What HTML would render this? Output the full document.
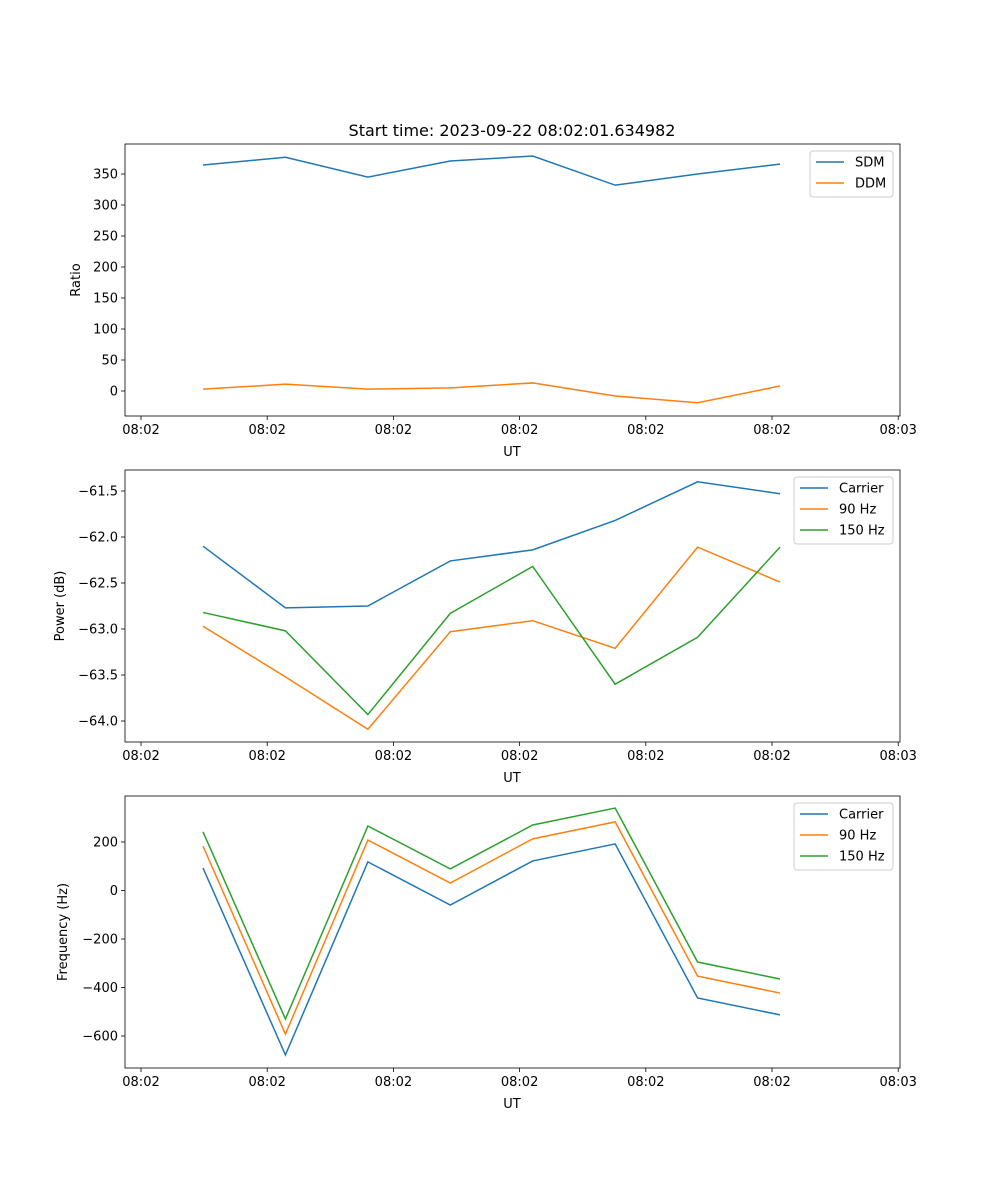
<!DOCTYPE html>
<html><head><meta charset="utf-8"><style>
body{margin:0;background:#fff;}
svg{display:block;font-family:"DejaVu Sans","Liberation Sans",sans-serif;}
</style></head><body>
<svg id="fig" width="1000" height="1200"></svg>
<script>
const xTickLabels=["08:02","08:02","08:02","08:02","08:02","08:02","08:03"];
const xTickIdx=[-0.752,0.779,2.310,3.841,5.372,6.903,8.434];
const pointIdx=[0,1,2,3,4,5,6,7];
const sdm=[364.5,377,345,371,379,332,350,366];
const ddm=[3,11,3,5,13,-8,-19,8];
const pCarrier=[-62.10,-62.77,-62.75,-62.26,-62.14,-61.82,-61.40,-61.53];
const p90=[-62.97,-63.52,-64.09,-63.03,-62.91,-63.21,-62.11,-62.49];
const p150=[-62.82,-63.02,-63.93,-62.83,-62.32,-63.60,-63.09,-62.11];
const fCarrier=[93,-678,118,-60,122,192,-443,-513];
const f90=[183,-592,208,31,213,283,-353,-423];
const f150=[242,-530,266,89,270,340,-295,-365];
const ticks1=[0,50,100,150,200,250,300,350];
const ticks2=[-64.0,-63.5,-63.0,-62.5,-62.0,-61.5];
const ticks3=[-600,-400,-200,0,200];
const C=["#1f77b4","#ff7f0e","#2ca02c"];
const NS="http://www.w3.org/2000/svg";
const svg=document.getElementById('fig');
function el(tag,attrs,parent){const e=document.createElementNS(NS,tag);for(const k in attrs)e.setAttribute(k,attrs[k]);(parent||svg).appendChild(e);return e;}
const X0=125,X1=900;
const xs=i=>203+i*82.43;
function panel(top,bottom,yf,yticks,fmt,ylabel,series,names,legW,name){
  const g=el('g',{});
  
  
  el('rect',{x:X0,y:top,width:X1-X0,height:bottom-top,fill:'#fff'},g);
  xTickIdx.forEach((t,k)=>{const x=xs(t);
    el('line',{x1:x,x2:x,y1:bottom,y2:bottom+4,stroke:'#000','stroke-width':0.8},g);
    const tx=el('text',{x:x,y:bottom+18,'font-size':13,'text-anchor':'middle'},g);tx.textContent=xTickLabels[k];
    
    });
  const xl=el('text',{x:512,y:bottom+40,'font-size':13,'text-anchor':'middle'},g);xl.textContent='UT';
  
  
  yticks.forEach(v=>{const y=yf(v);
    el('line',{x1:X0-4,x2:X0,y1:y,y2:y,stroke:'#000','stroke-width':0.8},g);
    const tx=el('text',{x:X0-7,y:y+4.5,'font-size':13,'text-anchor':'end'},g);tx.textContent=fmt(v);
    
    });
  const yl=el('text',{x:0,y:0,'font-size':13,'text-anchor':'middle',transform:`translate(${ylabel[1]},${(top+bottom)/2}) rotate(-90)`},g);yl.textContent=ylabel[0];
  
  
  series.forEach((s,j)=>{const p=el('polyline',{points:s.map((v,i)=>xs(pointIdx[i])+','+yf(v)).join(' '),fill:'none',stroke:C[j],'stroke-width':1.5},g);
    
    });
  el('rect',{x:X0,y:top,width:X1-X0,height:bottom-top,fill:'none',stroke:'#000','stroke-width':0.8},g);
  const lx=X1-7-legW,ly=top+7,lh=4+names.length*21;
  const lg=el('g',{},g);
  
  
  el('rect',{x:lx,y:ly,width:legW,height:lh,rx:3,fill:'#fff',stroke:'#ccc','stroke-width':1},lg);
  names.forEach((n,j)=>{const y=ly+11+j*21;
    el('line',{x1:lx+6,x2:lx+34,y1:y,y2:y,stroke:C[j],'stroke-width':1.5},lg);
    const t=el('text',{x:lx+45,y:y+4.5,'font-size':13},lg);t.textContent=n;
    
    });
}
panel(144,416,v=>391-v*0.62,ticks1,v=>String(v),['Ratio',80],[sdm,ddm],['SDM','DDM'],83,'ratio-panel');
panel(470,742,v=>491+(-61.5-v)*92,ticks2,v=>'\u2212'+Math.abs(v).toFixed(1),['Power (dB)',64],[pCarrier,p90,p150],['Carrier','90 Hz','150 Hz'],99,'power-panel');
panel(796,1068,v=>890.5-v*0.2425,ticks3,v=>v<0?'\u2212'+Math.abs(v):String(v),['Frequency (Hz)',67],[fCarrier,f90,f150],['Carrier','90 Hz','150 Hz'],99,'frequency-panel');
const t=el('text',{x:512,y:136,'font-size':16,'text-anchor':'middle'});t.textContent='Start time: 2023-09-22 08:02:01.634982';


</script>
</body></html>
